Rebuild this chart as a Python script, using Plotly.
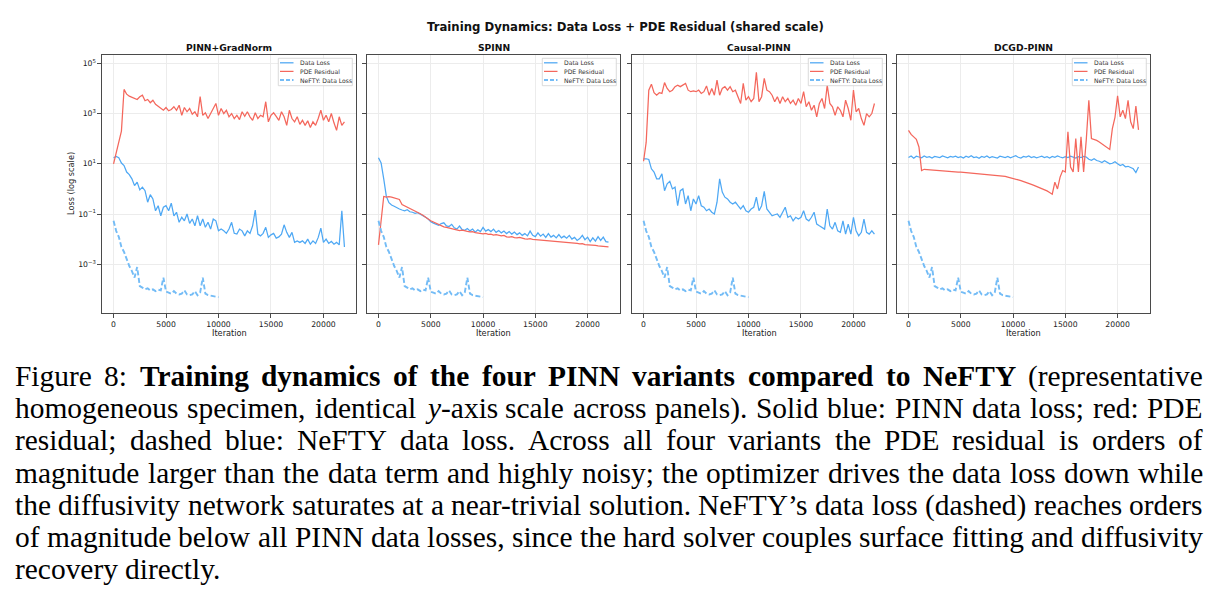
import glob
import re
import plotly.graph_objects as go

W, H = 1220, 606

# ---------------- data (log10 of loss) ----------------
ITERATIONS = list(range(0, 22001, 250))
NEFTY_ITERATIONS = list(range(0, 10001, 250))

PANEL_TITLES = ["PINN+GradNorm", "SPINN", "Causal-PINN", "DCGD-PINN"]
SERIES_NAMES = ["Data Loss", "PDE Residual", "NeFTY: Data Loss"]

X_TICKS = [0, 5000, 10000, 15000, 20000]
Y_TICKS = [1e-3, 1e-1, 1e1, 1e3, 1e5]
Y_TICK_TEXT = ["10<sup>\u22123</sup>", "10<sup>\u22121</sup>", "10<sup>1</sup>",
               "10<sup>3</sup>", "10<sup>5</sup>"]

gradnorm_data_log10 = [
    1.24, 1.29, 1.24, 1.03, 0.93, 0.67, 0.57, 0.40, 0.13, 0.27,
    -0.04, 0.07, -0.07, -0.53, -0.23, -0.40, -0.87, -0.67, -1.07, -0.73,
    -0.67, -0.87, -0.57, -1.07, -0.93, -1.33, -1.13, -1.27, -1.00, -1.37,
    -1.20, -1.47, -1.07, -1.47, -1.20, -1.53, -1.33, -1.60, -1.20, -1.27,
    -1.67, -1.60, -1.67, -1.77, -1.60, -1.33, -1.77, -1.80, -1.60, -1.67,
    -1.87, -1.67, -1.77, -1.47, -0.84, -1.80, -1.87, -1.77, -1.53, -1.93,
    -1.83, -1.77, -1.96, -1.91, -1.80, -1.43, -1.73, -1.93, -1.73, -2.13,
    -2.07, -2.13, -2.07, -2.17, -2.00, -2.20, -2.07, -2.17, -1.93, -1.56,
    -2.13, -2.00, -2.17, -2.09, -2.20, -2.13, -2.23, -0.87, -2.31]
gradnorm_pde_log10 = [
    1.00, 1.47, 1.91, 2.30, 3.96, 3.77, 3.69, 3.64, 3.60, 3.56,
    3.67, 3.73, 3.51, 3.56, 3.43, 3.53, 3.37, 3.29, 3.20, 3.13,
    3.24, 3.11, 3.16, 3.27, 3.13, 3.33, 2.93, 3.24, 3.07, 3.20,
    2.97, 3.07, 2.87, 3.67, 2.93, 3.03, 2.80, 3.00, 3.16, 3.40,
    2.93, 3.20, 3.00, 3.13, 2.87, 3.00, 2.80, 2.93, 2.76, 3.07,
    2.89, 3.07, 2.87, 2.73, 3.03, 2.80, 2.93, 2.87, 3.47, 2.67,
    2.93, 3.03, 2.89, 2.73, 3.07, 2.87, 2.53, 3.13, 2.80, 2.67,
    2.87, 2.57, 2.73, 2.53, 2.71, 2.44, 2.67, 2.53, 2.80, 3.13,
    2.73, 2.93, 2.67, 3.00, 2.63, 2.33, 2.87, 2.53, 2.67]

spinn_data_log10 = [
    1.24, 1.03, 0.40, -0.30, -0.55, -0.64, -0.69, -0.76, -0.80, -0.84,
    -0.87, -0.83, -0.91, -0.93, -0.97, -0.95, -1.00, -1.05, -1.13, -1.20,
    -1.31, -1.36, -1.40, -1.45, -1.38, -1.35, -1.47, -1.50, -1.41, -1.55,
    -1.60, -1.48, -1.62, -1.65, -1.58, -1.67, -1.60, -1.72, -1.63, -1.70,
    -1.53, -1.68, -1.62, -1.70, -1.60, -1.73, -1.66, -1.75, -1.68, -1.78,
    -1.70, -1.80, -1.72, -1.82, -1.75, -1.85, -1.78, -1.87, -1.68, -1.85,
    -1.90, -1.75, -1.88, -1.80, -1.93, -1.78, -1.92, -1.85, -1.95, -1.82,
    -1.95, -1.88, -1.96, -1.85, -2.00, -1.93, -2.05, -1.98, -1.85, -2.02,
    -1.92, -2.10, -1.95, -2.08, -1.90, -2.05, -1.92, -2.10, -2.12]
spinn_pde_log10 = [
    -2.23, -1.27, -0.30, -0.33, -0.31, -0.33, -0.35, -0.37, -0.42, -0.62,
    -0.67, -0.71, -0.77, -0.81, -0.86, -0.93, -0.99, -1.05, -1.14, -1.20,
    -1.27, -1.32, -1.38, -1.43, -1.47, -1.51, -1.53, -1.56, -1.58, -1.60,
    -1.63, -1.66, -1.64, -1.68, -1.69, -1.71, -1.70, -1.74, -1.76, -1.75,
    -1.79, -1.77, -1.81, -1.80, -1.84, -1.82, -1.86, -1.87, -1.85, -1.91,
    -1.92, -1.90, -1.94, -1.95, -1.93, -1.97, -1.99, -2.00, -1.98, -2.01,
    -2.02, -2.00, -2.03, -2.04, -2.05, -2.04, -2.06, -2.08, -2.07, -2.09,
    -2.10, -2.12, -2.13, -2.12, -2.15, -2.16, -2.17, -2.19, -2.18, -2.22,
    -2.22, -2.23, -2.24, -2.25, -2.27, -2.28, -2.29, -2.30, -2.31]

causal_data_log10 = [
    1.20, 1.20, 1.17, 0.80, 0.67, 0.40, 0.40, 0.60, -0.07, 0.20,
    0.30, 0.00, 0.07, -0.67, -0.07, 0.00, -0.60, -0.27, -0.87, -0.40,
    -0.60, -0.27, -0.67, -0.73, -0.87, -0.80, -0.93, -1.00, -0.53, 0.40,
    -0.13, -0.33, -0.40, -0.53, -0.60, -0.53, -0.67, -0.80, -0.67, -0.87,
    -0.93, -0.80, -0.73, -0.33, -0.87, -0.67, -0.10, -0.80, -0.93, -1.07,
    -1.03, -1.00, -1.13, -0.90, -0.73, -1.13, -1.07, -1.27, -1.13, -1.20,
    -1.13, -0.87, -1.20, -1.27, -1.13, -0.93, -1.40, -1.47, -1.53, -1.60,
    -0.80, -1.47, -1.60, -1.33, -1.67, -1.73, -1.27, -1.80, -1.40, -1.80,
    -1.13, -1.67, -1.87, -1.73, -1.20, -1.73, -1.80, -1.67, -1.80]
causal_pde_log10 = [
    1.10, 1.85, 3.93, 4.17, 3.83, 3.73, 3.83, 3.80, 4.23, 4.00,
    3.87, 3.93, 4.07, 4.13, 4.07, 4.13, 4.20, 3.93, 3.87, 3.90,
    3.87, 3.93, 3.80, 3.87, 4.10, 3.73, 4.00, 3.73, 4.33, 3.73,
    4.00, 4.07, 3.93, 4.07, 3.87, 3.93, 3.67, 3.40, 4.20, 3.53,
    3.67, 3.47, 3.60, 4.64, 3.47, 3.67, 4.40, 3.93, 3.87, 3.73,
    3.47, 3.67, 3.40, 3.67, 3.47, 3.60, 3.40, 3.53, 3.33, 3.60,
    3.40, 3.87, 3.27, 3.47, 3.13, 3.33, 2.87, 3.40, 3.60, 3.20,
    4.13, 3.40, 3.27, 2.93, 3.27, 3.13, 2.87, 3.53, 3.20, 2.73,
    3.93, 3.07, 3.20, 2.80, 2.53, 3.00, 2.87, 3.00, 3.40]

dcgd_data_log10 = [
    1.25, 1.31, 1.22, 1.30, 1.27, 1.24, 1.31, 1.26, 1.28, 1.23,
    1.29, 1.27, 1.25, 1.31, 1.26, 1.24, 1.29, 1.27, 1.30, 1.25,
    1.28, 1.23, 1.30, 1.26, 1.32, 1.25, 1.27, 1.22, 1.29, 1.26,
    1.31, 1.24, 1.28, 1.26, 1.23, 1.30, 1.27, 1.25, 1.29, 1.24,
    1.28, 1.32, 1.26, 1.23, 1.29, 1.27, 1.31, 1.25, 1.28, 1.24,
    1.27, 1.30, 1.25, 1.28, 1.23, 1.29, 1.26, 1.31, 1.27, 1.24,
    1.28, 1.25, 1.30, 1.26, 1.23, 1.28, 1.25, 1.29, 1.27, 1.18,
    1.14, 1.20, 1.13, 1.10, 1.05, 1.12, 1.07, 1.00, 1.02, 1.08,
    1.00, 0.93, 0.97, 0.88, 0.90, 0.85, 0.80, 0.65, 0.87]
dcgd_pde_log10 = [
    2.33, 2.17, 2.07, 1.97, 1.67, 0.73, 0.78, 0.77, 0.77, 0.76,
    0.75, 0.74, 0.73, 0.72, 0.71, 0.70, 0.70, 0.69, 0.68, 0.67,
    0.67, 0.66, 0.65, 0.65, 0.64, 0.63, 0.62, 0.62, 0.61, 0.60,
    0.59, 0.58, 0.57, 0.56, 0.55, 0.53, 0.52, 0.50, 0.47, 0.45,
    0.42, 0.39, 0.36, 0.33, 0.30, 0.26, 0.22, 0.18, 0.14, 0.10,
    0.06, 0.02, -0.03, -0.08, -0.14, -0.21, 0.27, 0.00, 0.47, 0.73,
    0.67, 2.27, 0.87, 0.67, 2.00, 0.67, 2.07, 0.67, 1.93, 3.53,
    2.00, 1.97, 1.93, 1.87, 1.80, 1.73, 1.65, 1.57, 2.40, 2.85,
    3.70, 2.87, 3.13, 2.80, 3.53, 2.67, 2.40, 3.30, 2.35]

nefty_data_log10 = [
    -1.27, -1.67, -1.91, -2.31, -2.51, -2.84, -3.07, -3.27, -3.53, -3.11,
    -3.87, -3.93, -4.00, -3.96, -4.04, -4.00, -4.07, -4.01, -4.04, -3.53,
    -4.09, -4.13, -4.17, -4.07, -4.17, -4.20, -4.17, -4.04, -4.20, -4.23,
    -4.20, -4.07, -4.23, -4.13, -3.53, -4.17, -4.23, -4.25, -4.28, -4.29,
    -4.31]

PANEL_DATA = [gradnorm_data_log10, spinn_data_log10, causal_data_log10, dcgd_data_log10]
PANEL_PDE = [gradnorm_pde_log10, spinn_pde_log10, causal_pde_log10, dcgd_pde_log10]

SUPTITLE = "Training Dynamics: Data Loss + PDE Residual (shared scale)"
CAPTION_LINES = [
    "Figure 8: <b>Training dynamics of the four PINN variants compared to NeFTY</b> (representative",
    "homogeneous specimen, identical <i>y</i>-axis scale across panels). Solid blue: PINN data loss; red: PDE",
    "residual; dashed blue: NeFTY data loss. Across all four variants the PDE residual is orders of",
    "magnitude larger than the data term and highly noisy; the optimizer drives the data loss down while",
    "the diffusivity network saturates at a near-trivial solution. NeFTY\u2019s data loss (dashed) reaches orders",
    "of magnitude below all PINN data losses, since the hard solver couples surface fitting and diffusivity",
    "recovery directly.",
]

# ---------------- styling ----------------
BLUE = "#4EA8F4"
RED = "#F4675C"
NEFTY_BLUE = "#74BCF6"
FRAME = "#4a4a4a"
GRID = "#ececec"
SANS = "DejaVu Sans, Verdana, sans-serif"
SERIF = "Liberation Serif, Times New Roman, serif"

PANEL_X = [(102, 356), (367, 620), (632, 886), (897, 1150)]
PANEL_TOP, PANEL_BOTTOM = 55, 313


def px(x):
    return x / W


def py(y):
    return 1 - y / H


fig = go.Figure()
layout = dict(
    width=W, height=H, autosize=False,
    margin=dict(l=0, r=0, t=0, b=0),
    paper_bgcolor="white", plot_bgcolor="white",
    showlegend=False,
    font=dict(family=SANS, color="#222"),
)
annotations = []
shapes = []

for i, title in enumerate(PANEL_TITLES):
    sfx = "" if i == 0 else str(i + 1)
    xa, ya = "x" + sfx, "y" + sfx
    fig.add_trace(go.Scatter(
        x=ITERATIONS, y=[10 ** v for v in PANEL_DATA[i]], mode="lines",
        name=SERIES_NAMES[0], line=dict(color=BLUE, width=1.25),
        xaxis=xa, yaxis=ya))
    fig.add_trace(go.Scatter(
        x=ITERATIONS, y=[10 ** v for v in PANEL_PDE[i]], mode="lines",
        name=SERIES_NAMES[1], line=dict(color=RED, width=1.25),
        xaxis=xa, yaxis=ya))
    fig.add_trace(go.Scatter(
        x=NEFTY_ITERATIONS, y=[10 ** v for v in nefty_data_log10], mode="lines",
        name=SERIES_NAMES[2], line=dict(color=NEFTY_BLUE, width=1.9, dash="5px,2.5px"),
        xaxis=xa, yaxis=ya))

    x0, x1 = PANEL_X[i]
    layout["xaxis" + sfx] = dict(
        domain=[px(x0), px(x1)], anchor=ya, range=[-1100, 23100],
        tickmode="array", tickvals=X_TICKS, ticktext=[str(t) for t in X_TICKS],
        ticks="outside", ticklen=3.5, tickwidth=0.8, tickcolor=FRAME,
        tickfont=dict(family=SANS, size=7.7, color="#222"),
        showline=True, mirror=True, linecolor=FRAME, linewidth=1.1,
        showgrid=True, gridcolor=GRID, gridwidth=0.8, zeroline=False,
    )
    layout["yaxis" + sfx] = dict(
        domain=[py(PANEL_BOTTOM), py(PANEL_TOP)], anchor=xa, type="log",
        range=[-4.94, 5.33],
        tickmode="array", tickvals=Y_TICKS, ticktext=Y_TICK_TEXT,
        showticklabels=(i == 0),
        ticks="outside", ticklen=3.5, tickwidth=0.8, tickcolor=FRAME,
        tickfont=dict(family=SANS, size=7.7, color="#222"),
        showline=True, mirror=True, linecolor=FRAME, linewidth=1.1,
        showgrid=True, gridcolor=GRID, gridwidth=0.8, zeroline=False,
    )

    # subplot title and x-axis label
    annotations.append(dict(
        text="<b>%s</b>" % title, x=px((x0 + x1) / 2), y=py(47), xref="paper", yref="paper",
        xanchor="center", yanchor="middle", showarrow=False,
        font=dict(family=SANS, size=9.2, color="#111")))
    annotations.append(dict(
        text="Iteration", x=px((x0 + x1) / 2), y=py(333), xref="paper", yref="paper",
        xanchor="center", yanchor="middle", showarrow=False,
        font=dict(family=SANS, size=8.2, color="#222")))

    # legend box (drawn like matplotlib's, in the upper right of each panel)
    R = x1
    shapes.append(dict(type="rect", xref="paper", yref="paper",
                       x0=px(R - 77.7), x1=px(R - 3.7), y0=py(85.7), y1=py(58.3),
                       line=dict(color="#d2d2d2", width=0.8), fillcolor="rgba(255,255,255,0.85)",
                       layer="above"))
    for j, (nm, col, dash, lw) in enumerate([
            (SERIES_NAMES[0], BLUE, "solid", 1.25),
            (SERIES_NAMES[1], RED, "solid", 1.25),
            (SERIES_NAMES[2], NEFTY_BLUE, "4px,2px", 1.9)]):
        yy = 62.8 + j * 8.6
        shapes.append(dict(type="line", xref="paper", yref="paper",
                           x0=px(R - 76), x1=px(R - 62.5), y0=py(yy), y1=py(yy),
                           line=dict(color=col, width=lw, dash=dash), layer="above"))
        annotations.append(dict(
            text=nm, x=px(R - 58.5), y=py(yy), xref="paper", yref="paper",
            xanchor="left", yanchor="middle", showarrow=False,
            font=dict(family=SANS, size=6.1, color="#333")))

# super title and shared y label
annotations.append(dict(
    text="<b>%s</b>" % SUPTITLE, x=px(626), y=py(26.5), xref="paper", yref="paper",
    xanchor="center", yanchor="middle", showarrow=False,
    font=dict(family=SANS, size=11.7, color="#111")))
annotations.append(dict(
    text="Loss (log scale)", x=px(71), y=py((PANEL_TOP + PANEL_BOTTOM) / 2),
    xref="paper", yref="paper", xanchor="center", yanchor="middle", textangle=-90,
    showarrow=False, font=dict(family=SANS, size=8.2, color="#222")))

# ---------------- caption (justified, Times-like) ----------------
CAP_LEFT, CAP_RIGHT = 15, 1203
CAP_BASELINES = [386, 418, 450, 483, 515, 547, 579]


def find_font(name):
    hits = glob.glob("/usr/share/fonts/**/" + name, recursive=True)
    hits += glob.glob("/usr/local/share/fonts/**/" + name, recursive=True)
    return hits[0] if hits else None


fonts = None
try:
    from PIL import ImageFont
    fonts = {
        (False, False): ImageFont.truetype(find_font("LiberationSerif-Regular.ttf"), 200),
        (True, False): ImageFont.truetype(find_font("LiberationSerif-Bold.ttf"), 200),
        (False, True): ImageFont.truetype(find_font("LiberationSerif-Italic.ttf"), 200),
        (True, True): ImageFont.truetype(find_font("LiberationSerif-BoldItalic.ttf"), 200),
    }
except Exception:
    fonts = None

TAG = re.compile(r"(</?[bi]>)")


def words_of(line):
    bold = ital = False
    words, cur = [], []
    for part in TAG.split(line):
        if part == "<b>":
            bold = True
        elif part == "</b>":
            bold = False
        elif part == "<i>":
            ital = True
        elif part == "</i>":
            ital = False
        elif part:
            pieces = part.split(" ")
            for k, p in enumerate(pieces):
                if k > 0:
                    if cur:
                        words.append(cur)
                    cur = []
                if p:
                    cur.append((p, bold, ital))
    if cur:
        words.append(cur)
    return words


def seg_html(segs):
    out = ""
    for t, b, it in segs:
        s = t
        if it:
            s = "<i>%s</i>" % s
        if b:
            s = "<b>%s</b>" % s
        out += s
    return out


if fonts is None:
    CAP_SIZE = 28.0
    for li, line in enumerate(CAPTION_LINES):
        annotations.append(dict(
            text=line, x=px(CAP_LEFT), y=py(CAP_BASELINES[li] - 0.337 * CAP_SIZE),
            xref="paper", yref="paper",
            xanchor="left", yanchor="middle", showarrow=False, borderpad=0, borderwidth=0,
            font=dict(family=SERIF, size=CAP_SIZE, color="black")))
else:
    def em_widths(line):
        # italic glyphs overhang a little; pad them so the next word keeps its space
        return [sum(fonts[(b, it)].getlength(t) / 200 + (0.06 if it else 0.0) for t, b, it in w)
                for w in words_of(line)]

    space_em = fonts[(False, False)].getlength(" ") / 200
    naturals = [sum(em_widths(l)) + (len(em_widths(l)) - 1) * space_em for l in CAPTION_LINES[:-1]]
    CAP_SIZE = min(30.0, (CAP_RIGHT - CAP_LEFT) / max(naturals))
    for li, line in enumerate(CAPTION_LINES):
        ymid = CAP_BASELINES[li] - 0.337 * CAP_SIZE
        wds = words_of(line)
        widths = [e * CAP_SIZE for e in em_widths(line)]
        last = li == len(CAPTION_LINES) - 1
        if last or len(wds) < 2:
            gap = space_em * CAP_SIZE
        else:
            gap = (CAP_RIGHT - CAP_LEFT - sum(widths)) / (len(wds) - 1)
        xcur = CAP_LEFT
        for w, wd in zip(wds, widths):
            annotations.append(dict(
                text=seg_html(w), x=px(xcur), y=py(ymid), xref="paper", yref="paper",
                xanchor="left", yanchor="middle", showarrow=False, borderpad=0, borderwidth=0,
                font=dict(family=SERIF, size=CAP_SIZE, color="black")))
            xcur += wd + gap

layout["annotations"] = annotations
layout["shapes"] = shapes
fig.update_layout(**layout)
fig.write_html("out.html")
